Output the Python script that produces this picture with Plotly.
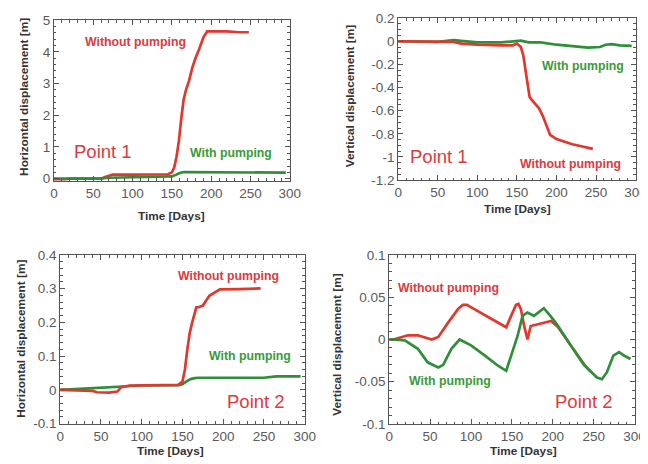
import plotly.graph_objects as go

# ---------------- data ----------------
# Point 1, horizontal displacement [m]
p1h_wo_x = [0, 10, 20, 40, 60, 65, 70, 75, 100, 125, 145, 150, 153, 156, 159, 162, 165, 168, 172, 176, 180, 185, 190, 195, 200, 220, 235, 248]
p1h_wo_y = [-0.05, -0.05, 0.0, 0.0, 0.0, 0.05, 0.1, 0.13, 0.13, 0.13, 0.14, 0.2, 0.35, 0.7, 1.2, 1.9, 2.5, 2.8, 3.1, 3.5, 3.8, 4.1, 4.45, 4.65, 4.65, 4.65, 4.62, 4.62]
p1h_w_x = [0, 30, 60, 70, 100, 140, 150, 155, 160, 165, 170, 200, 250, 295]
p1h_w_y = [0.0, 0.0, 0.01, 0.03, 0.04, 0.05, 0.07, 0.12, 0.18, 0.21, 0.21, 0.2, 0.19, 0.19]

# Point 1, vertical displacement [m]
p1v_wo_x = [0, 50, 70, 80, 100, 130, 145, 150, 155, 158, 160, 162, 164, 166, 168, 172, 178, 183, 188, 192, 200, 210, 220, 230, 240, 246]
p1v_wo_y = [0, 0, -0.005, -0.02, -0.03, -0.035, -0.035, -0.02, -0.05, -0.12, -0.22, -0.32, -0.42, -0.48, -0.5, -0.53, -0.58, -0.65, -0.75, -0.81, -0.845, -0.87, -0.89, -0.905, -0.92, -0.93]
p1v_w_x = [0, 20, 50, 70, 100, 130, 148, 155, 165, 180, 200, 220, 240, 255, 262, 270, 280, 295]
p1v_w_y = [0.0, 0.0, -0.005, 0.01, -0.01, -0.01, 0.0, 0.005, -0.01, -0.01, -0.03, -0.045, -0.055, -0.05, -0.03, -0.025, -0.035, -0.04]

# Point 2, horizontal displacement [m]
p2h_wo_x = [0, 20, 40, 45, 60, 70, 75, 85, 100, 125, 145, 150, 153, 156, 159, 162, 165, 167, 170, 175, 183, 190, 196, 220, 246]
p2h_wo_y = [0.0, -0.002, -0.003, -0.007, -0.008, -0.005, 0.008, 0.013, 0.013, 0.013, 0.015, 0.025, 0.06, 0.12, 0.17, 0.2, 0.23, 0.245, 0.245, 0.25, 0.279, 0.29, 0.298, 0.299, 0.301]
p2h_w_x = [0, 25, 50, 75, 100, 145, 150, 155, 160, 165, 170, 200, 250, 265, 295]
p2h_w_y = [0.0, 0.003, 0.006, 0.01, 0.013, 0.014, 0.017, 0.025, 0.032, 0.035, 0.036, 0.036, 0.036, 0.04, 0.04]

# Point 2, vertical displacement [m]
p2v_wo_x = [0, 5, 23, 35, 52, 60, 72, 84, 90, 95, 104, 125, 143, 149, 155, 158, 161, 165, 169, 173, 181, 190, 198, 206, 222, 238, 246]
p2v_wo_y = [0, 0, 0.005, 0.005, 0.0, 0.003, 0.02, 0.036, 0.041, 0.041, 0.036, 0.024, 0.0145, 0.028, 0.041, 0.042, 0.036, 0.016, 0.0, 0.016, 0.018, 0.02, 0.022, 0.015, -0.007, -0.029, -0.038]
p2v_w_x = [0, 5, 19, 35, 47, 60, 66, 76, 86, 100, 117, 133, 143, 149, 157, 163, 169, 177, 189, 197, 205, 222, 238, 254, 260, 266, 274, 281, 287, 295]
p2v_w_y = [0, 0, -0.001, -0.011, -0.027, -0.033, -0.03, -0.011, 0.0, -0.007, -0.019, -0.031, -0.037, -0.019, 0.0045, 0.028, 0.032, 0.028, 0.037, 0.028, 0.018, -0.007, -0.03, -0.045, -0.047, -0.039, -0.019, -0.015, -0.019, -0.023]

x_ticks = [0, 50, 100, 150, 200, 250, 300]
y_ticks_p1h = [0, 1, 2, 3, 4, 5]
y_ticks_p1v = [0.2, 0, -0.2, -0.4, -0.6, -0.8, -1, -1.2]
y_ticks_p2h = [0.4, 0.3, 0.2, 0.1, 0, -0.1]
y_ticks_p2v = [0.1, 0.05, 0, -0.05, -0.1]

RED = "#e0372f"
GREEN = "#2f8f38"
RED_T = "#dd3a3e"
GREEN_T = "#3a9a3a"
FONT = "Liberation Sans, Arial, sans-serif"
W, H = 648, 464

# screen -> figure pixel calibration (page offset / scaling of the viewer)
def fx(X):
    return (X - 9.8) / 0.982

def fy(Y):
    return (Y - 16.4) / 0.966

fig = go.Figure()

series = [
    (p1h_wo_x, p1h_wo_y, RED, "x", "y"),
    (p1h_w_x, p1h_w_y, GREEN, "x", "y"),
    (p1v_w_x, p1v_w_y, GREEN, "x2", "y2"),
    (p1v_wo_x, p1v_wo_y, RED, "x2", "y2"),
    (p2h_w_x, p2h_w_y, GREEN, "x3", "y3"),
    (p2h_wo_x, p2h_wo_y, RED, "x3", "y3"),
    (p2v_wo_x, p2v_wo_y, RED, "x4", "y4"),
    (p2v_w_x, p2v_w_y, GREEN, "x4", "y4"),
]
for xs, ys, c, xa, ya in series:
    fig.add_trace(go.Scatter(x=xs, y=ys, mode="lines", line=dict(color=c, width=2.7),
                             xaxis=xa, yaxis=ya, showlegend=False, hoverinfo="skip"))

def xdom(left, right):
    return [fx(left) / W, fx(right) / W]

def ydom(top, bottom):
    return [1 - fy(bottom) / H, 1 - fy(top) / H]

frame = "#555555"
common = dict(showline=True, linecolor=frame, linewidth=1, mirror="ticks",
              ticks="inside", ticklen=5, tickcolor=frame, showgrid=False, zeroline=False,
              tickfont=dict(family=FONT, size=13.5, color="#5a5a5a"))

def xaxis(dom, anchor):
    return dict(domain=dom, anchor=anchor, range=[0, 300], tickvals=x_ticks,
                minor=dict(ticks="inside", ticklen=2.5, dtick=10, tickcolor=frame), **common)

def yaxis(dom, anchor, rng, tv, txt, mdt):
    return dict(domain=dom, anchor=anchor, range=rng, tickvals=tv, ticktext=txt,
                minor=dict(ticks="inside", ticklen=2.5, dtick=mdt, tickcolor=frame), **common)

fig.update_layout(
    width=W, height=H, margin=dict(l=0, r=0, t=0, b=0),
    paper_bgcolor="white", plot_bgcolor="white",
    xaxis=xaxis(xdom(52, 289), "y"),
    yaxis=yaxis(ydom(21.6, 181.7), "x", [-0.06, 5], y_ticks_p1h, [str(v) for v in y_ticks_p1h], 0.2),
    xaxis2=xaxis(xdom(398, 636.7), "y2"),
    yaxis2=yaxis(ydom(19.5, 181.2), "x2", [-1.2, 0.2], y_ticks_p1v, ["0.2", "0", "-0.2", "-0.4", "-0.6", "-0.8", "-1", "-1.2"], 0.05),
    xaxis3=xaxis(xdom(58.3, 304), "y3"),
    yaxis3=yaxis(ydom(256, 424.3), "x3", [-0.1, 0.4], y_ticks_p2h, ["0.4", "0.3", "0.2", "0.1", "0", "-0.1"], 0.02),
    xaxis4=xaxis(xdom(389, 635.7), "y4"),
    yaxis4=yaxis(ydom(256, 424.7), "x4", [-0.1, 0.1], y_ticks_p2v, ["0.1", "0.05", "0", "-0.05", "-0.1"], 0.01),
)

anns = []

def lab(text, x, y, xr, yr, color, size=12.3, bold=True):
    t = f"<b>{text}</b>" if bold else text
    anns.append(dict(text=t, x=x, y=y, xref=xr, yref=yr, showarrow=False,
                     font=dict(family=FONT, size=size, color=color), xanchor="center", yanchor="middle"))

lab("Without pumping", 104, 4.3, "x", "y", RED_T)
lab("With pumping", 225, 0.8, "x", "y", GREEN_T)
lab("Point 1", 62, 0.87, "x", "y", RED_T, size=18.5, bold=False)

lab("With pumping", 233, -0.21, "x2", "y2", GREEN_T)
lab("Without pumping", 218, -1.06, "x2", "y2", RED_T)
lab("Point 1", 51, -1.0, "x2", "y2", RED_T, size=18.5, bold=False)

lab("Without pumping", 207, 0.3375, "x3", "y3", RED_T)
lab("With pumping", 233, 0.1, "x3", "y3", GREEN_T)
lab("Point 2", 240, -0.035, "x3", "y3", RED_T, size=18.5, bold=False)

lab("Without pumping", 72, 0.061, "x4", "y4", RED_T)
lab("With pumping", 74, -0.049, "x4", "y4", GREEN_T)
lab("Point 2", 238, -0.073, "x4", "y4", RED_T, size=18.5, bold=False)

def title(text, X, Y, angle=0, xanchor="center"):
    px = max(fx(X), 0.5) if xanchor == "left" else fx(X)
    anns.append(dict(text=f"<b>{text}</b>", x=px / W, y=1 - fy(Y) / H, xref="paper", yref="paper",
                     showarrow=False, textangle=angle, xanchor=xanchor, yanchor="middle",
                     font=dict(family=FONT, size=11.8, color="#333333")))

title("Time [Days]", 170, 217)
title("Time [Days]", 518, 210)
title("Time [Days]", 169, 452)
title("Time [Days]", 524, 452)
title("Horizontal displacement [m]", 22, 98, -90)
title("Vertical displacement [m]", 349, 97, -90)
title("Horizontal displacement [m]", 2, 339, -90, xanchor="left")
title("Vertical displacement [m]", 337, 345, -90)

fig.update_layout(annotations=anns)
fig.write_html("out.html")
